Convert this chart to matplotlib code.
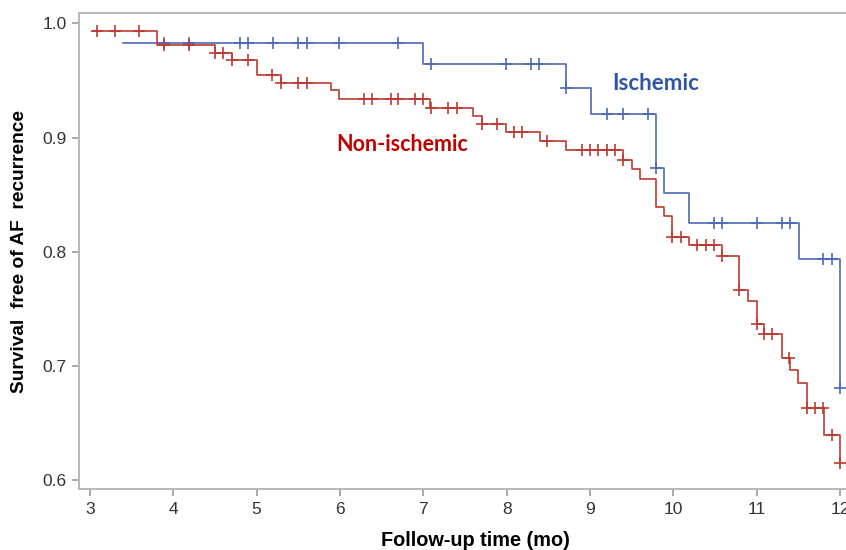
import numpy as np
import matplotlib
matplotlib.use("Agg")
import matplotlib.pyplot as plt

# Kaplan-Meier steps: start time/value, then (drop time, new value)
red_start = (3.04, 0.993)
red_times = [3.80, 4.50, 4.70, 5.00, 5.29, 5.89, 5.99, 7.08, 7.60, 7.70, 7.99, 8.40, 8.71,
             9.40, 9.50, 9.60, 9.79, 9.89, 9.99, 10.19, 10.59, 10.79, 10.90, 11.00, 11.09,
             11.30, 11.40, 11.50, 11.60, 11.81, 12.00]
red_surv = [0.981, 0.974, 0.968, 0.955, 0.948, 0.942, 0.934, 0.926, 0.919, 0.912, 0.905,
            0.897, 0.889, 0.880, 0.872, 0.864, 0.839, 0.831, 0.813, 0.806, 0.796, 0.766,
            0.757, 0.737, 0.728, 0.707, 0.696, 0.685, 0.663, 0.639, 0.615]
red_cens = [3.09, 3.30, 3.59, 3.89, 4.19, 4.50, 4.60, 4.70, 4.90, 5.19, 5.29, 5.50, 5.60,
            6.29, 6.39, 6.61, 6.70, 6.90, 7.00, 7.09, 7.30, 7.40, 7.70, 7.89, 8.09, 8.19,
            8.49, 8.90, 9.00, 9.10, 9.20, 9.30, 9.40, 9.99, 10.09, 10.29, 10.39, 10.49,
            10.59, 10.79, 11.00, 11.09, 11.19, 11.39, 11.60, 11.70, 11.80, 11.90, 12.00]

blue_start = (3.40, 0.983)
blue_times = [7.00, 8.71, 9.01, 9.79, 9.89, 10.19, 11.51, 12.00]
blue_surv = [0.964, 0.943, 0.921, 0.873, 0.851, 0.825, 0.794, 0.681]
blue_cens = [3.89, 4.19, 4.80, 4.90, 5.20, 5.50, 5.60, 5.99, 6.70, 7.09, 7.99, 8.29, 8.39,
             8.71, 9.20, 9.40, 9.70, 9.79, 10.49, 10.59, 11.00, 11.30, 11.40, 11.80,
             11.90, 12.00]

RED = "#bd3a32"
BLUE = "#4d69b3"
TICKFONT = ["Liberation Sans Narrow", "Liberation Sans"]


def km_line(ax, start, times, surv, cens, color):
    t = np.concatenate([[start[0]], times])
    s = np.concatenate([[start[1]], surv])
    ax.step(t, s, where="post", color=color, lw=1.2, zorder=3)
    idx = np.searchsorted(t, cens, side="right") - 1
    ax.plot(cens, s[idx], ls="none", marker="+", ms=8, mew=1.2, color=color, zorder=4)


fig = plt.figure(figsize=(8.46, 5.5), dpi=100)
W, H = 846, 550
ax = fig.add_axes([79 / W, 1 - 489 / H, (848.3 - 79) / W, (489 - 13.3) / H])

km_line(ax, blue_start, blue_times, blue_surv, blue_cens, BLUE)
km_line(ax, red_start, red_times, red_surv, red_cens, RED)

ax.set_xlim(2.868, 12.1)
ax.set_ylim(0.5921, 1.0088)
ax.set_xticks(range(3, 13))
ax.set_yticks([0.6, 0.7, 0.8, 0.9, 1.0])
ax.set_yticklabels(["0.6", "0.7", "0.8", "0.9", "1.0"])

for side in ["left", "bottom", "top"]:
    ax.spines[side].set_color("#b8b8b8")
    ax.spines[side].set_linewidth(1.4)
ax.spines["right"].set_visible(False)
ax.tick_params(colors="#9a9a9a", length=5, width=1.2, labelcolor="#333333",
               labelsize=12.5, pad=4)
for lab in ax.get_xticklabels() + ax.get_yticklabels():
    lab.set_family(TICKFONT)

ax.set_xlabel("Follow-up time (mo)", fontsize=14.3, fontweight="bold",
              family="Liberation Sans")
ax.set_ylabel("Survival  free of AF  recurrence", fontsize=13.8, fontweight="bold",
              family="Liberation Sans")
ax.xaxis.set_label_coords((475 - 79) / (848.3 - 79), -(541 - 489) / (489 - 13.3))
ax.yaxis.set_label_coords(-(79 - 20) / (848.3 - 79), 0.5)
ax.xaxis.label.set_va("center")
ax.yaxis.label.set_va("center")

ax.text(9.79, 0.947, "Ischemic", color="#2f55a4", fontsize=16, fontweight="bold",
        family="Lato", ha="center", va="center")
ax.text(6.74, 0.8935, "Non-ischemic", color="#c00000", fontsize=15.5, fontweight="bold",
        family="Lato", ha="center", va="center")

fig.savefig("out.png", dpi=100)
